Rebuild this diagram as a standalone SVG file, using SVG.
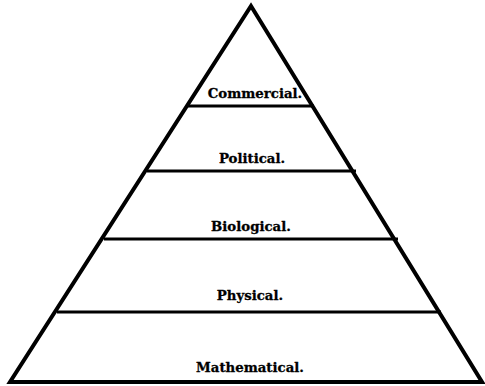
<svg xmlns="http://www.w3.org/2000/svg" width="485" height="386" viewBox="0 0 485 386">
  <style>
    .edge { fill: none; stroke: #000; stroke-width: 4; stroke-linejoin: miter; }
    .band { stroke: #000; stroke-width: 3; }
    .lbl { font-family: "DejaVu Serif", "Liberation Serif", serif; font-weight: bold; font-size: 13.3px; fill: #000; stroke: #000; stroke-width: 0.3; text-anchor: middle; }
  </style>
  <rect width="485" height="386" fill="#fff"/>
  <!-- dividing lines between the levels -->
  <g id="connectors">
    <line class="band" x1="188" y1="106" x2="314" y2="106"/>
    <line class="band" x1="147" y1="171" x2="356" y2="171"/>
    <line class="band" x1="104" y1="239" x2="398" y2="239"/>
    <line class="band" x1="57" y1="312" x2="441" y2="312"/>
  </g>
  <!-- pyramid outline -->
  <g id="pyramid">
    <polygon class="edge" points="251,6 482,382 10,382"/>
  </g>
  <g id="commercial"><text class="lbl" x="255" y="98">Commercial.</text></g>
  <g id="political"><text class="lbl" x="252" y="163">Political.</text></g>
  <g id="biological"><text class="lbl" x="251" y="231">Biological.</text></g>
  <g id="physical"><text class="lbl" x="250" y="300">Physical.</text></g>
  <g id="mathematical"><text class="lbl" x="250" y="372">Mathematical.</text></g>
</svg>
